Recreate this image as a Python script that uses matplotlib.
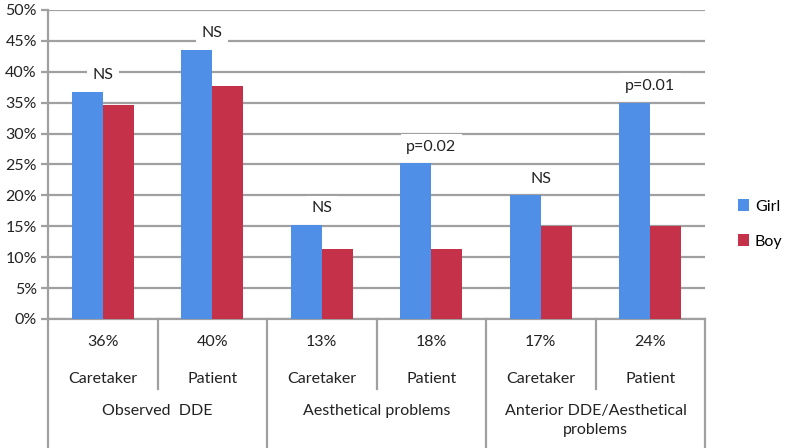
import matplotlib
matplotlib.use("Agg")
import matplotlib.pyplot as plt

plt.rcParams['font.family'] = ['Lato', 'DejaVu Sans']

roles = ["Caretaker", "Patient", "Caretaker", "Patient", "Caretaker", "Patient"]
totals = ["36%", "40%", "13%", "18%", "17%", "24%"]
groups = ["Observed  DDE", "Aesthetical problems", "Anterior DDE/Aesthetical\nproblems"]
girl = [36.8, 43.5, 15.2, 25.2, 20.0, 35.0]
boy = [34.7, 37.7, 11.3, 11.4, 15.0, 15.0]
sig = ["NS", "NS", "NS", "p=0.02", "NS", "p=0.01"]

W, H = 786, 448
fig = plt.figure(figsize=(W/100, H/100), dpi=100)
L, R, B, T = 48, 705, 319, 10
ax = fig.add_axes([L/W, 1-B/H, (R-L)/W, (B-T)/H])

blue = "#4F8FE8"
red = "#C6314A"
grid = "#A0A0A0"
n = len(girl)
x = list(range(n))
bw = 0.285
ax.bar([i - bw/2 for i in x], girl, width=bw, color=blue, label="Girl", zorder=3)
ax.bar([i + bw/2 for i in x], boy, width=bw, color=red, label="Boy", zorder=3)

ax.set_xlim(-0.5, n-0.5)
ax.set_ylim(0, 50)
ax.set_yticks(range(0, 51, 5))
ax.set_yticklabels([f"{v}%" for v in range(0, 51, 5)], fontsize=11.5, color="#222222")
ax.yaxis.grid(True, color=grid, linewidth=1.6, zorder=0)
ax.set_axisbelow(True)
ax.tick_params(axis='y', length=5, width=1.6, color=grid, pad=3)
ax.set_xticks([])
for s in ["top", "right"]:
    ax.spines[s].set_visible(False)
for s in ["left", "bottom"]:
    ax.spines[s].set_color(grid)
    ax.spines[s].set_linewidth(1.6)

for i in x:
    top = max(girl[i], boy[i])
    ax.text(i, top + 2.7, sig[i], ha="center", va="center", fontsize=11.5, color="#222222",
            zorder=5, bbox=dict(boxstyle="square,pad=0.35", fc="white", ec="none"))

def fx(px):
    return px / W
def fy(py):
    return 1 - py / H
catw = (R - L) / n
for k in range(n + 1):
    xp = L + k * catw
    y1 = H if k % 2 == 0 else 389
    fig.add_artist(plt.Line2D([fx(xp), fx(xp)], [fy(B), fy(y1)], color=grid, linewidth=1.6))
for i in x:
    cx = L + (i + 0.5) * catw
    fig.text(fx(cx), fy(342), totals[i], ha="center", va="center", fontsize=11.5, color="#222222")
    fig.text(fx(cx), fy(379), roles[i], ha="center", va="center", fontsize=11.5, color="#222222")
for g, name in enumerate(groups):
    cx = L + (2 * g + 1) * catw
    fig.text(fx(cx), fy(404), name, ha="center", va="top", fontsize=11.5, color="#222222",
             linespacing=1.45)

leg = fig.legend(loc="center left", bbox_to_anchor=(738/W, 1-224/H), frameon=False,
                 fontsize=11.5, handlelength=0.7, handleheight=0.7, handletextpad=0.35,
                 labelspacing=1.3, borderpad=0, borderaxespad=0)

fig.savefig("out.png", dpi=100)
